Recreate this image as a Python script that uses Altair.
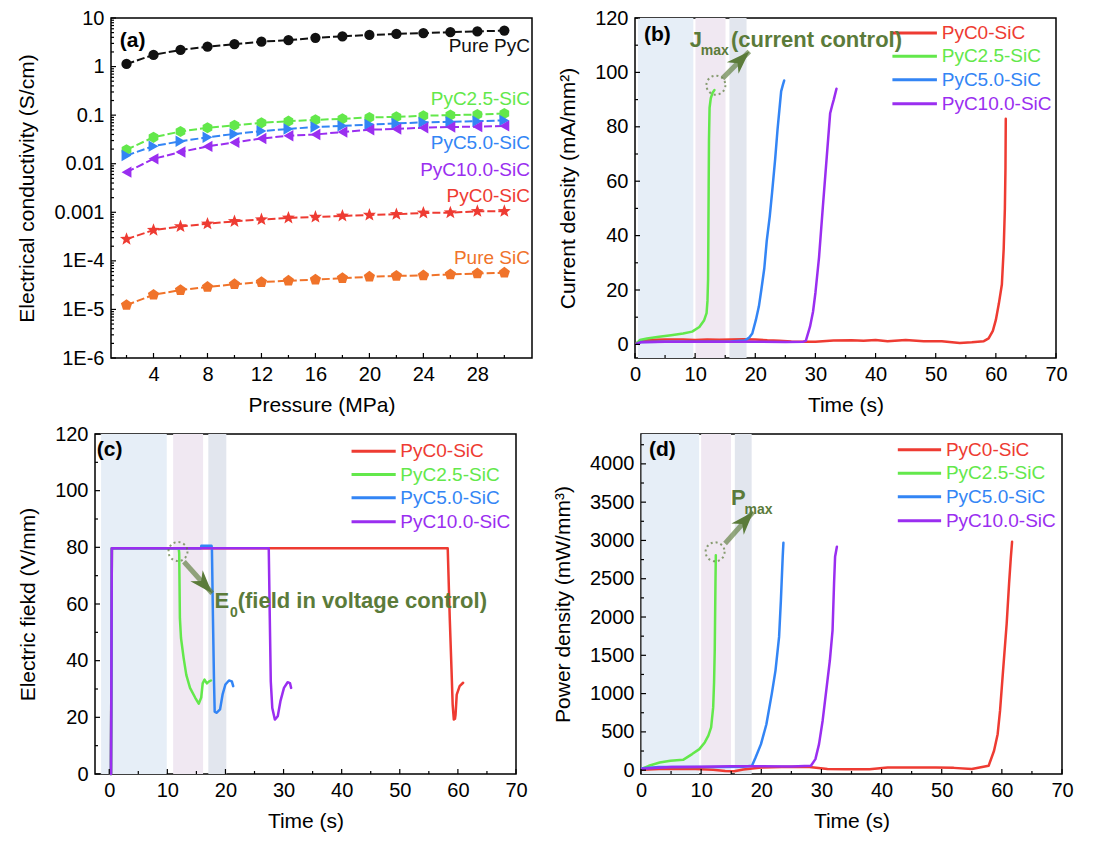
import math
import altair as alt
import pandas as pd

W, H = 421, 340
FONT = "Liberation Sans"
OLIVE = "#5B7B3A"

# ---------------- panel (a): conductivity vs pressure ----------------
pressure = [2, 4, 6, 8, 10, 12, 14, 16, 18, 20, 22, 24, 26, 28, 30]
cond_pure_pyc = [1.13, 1.74, 2.2, 2.57, 2.9, 3.26, 3.5, 3.9, 4.2, 4.47, 4.7, 4.9, 5.1, 5.3, 5.5]
cond_pyc25 = [0.0194, 0.035, 0.046, 0.055, 0.062, 0.0695, 0.075, 0.080, 0.084, 0.0895, 0.092, 0.097, 0.100, 0.103, 0.108]
cond_pyc50 = [0.0148, 0.023, 0.029, 0.035, 0.041, 0.047, 0.052, 0.057, 0.060, 0.064, 0.0675, 0.071, 0.073, 0.075, 0.078]
cond_pyc100 = [0.0067, 0.0126, 0.0174, 0.0227, 0.0275, 0.033, 0.0376, 0.040, 0.045, 0.050, 0.052, 0.055, 0.057, 0.058, 0.060]
cond_pyc0 = [2.8e-4, 4.3e-4, 5.1e-4, 5.8e-4, 6.5e-4, 7.1e-4, 7.65e-4, 8.0e-4, 8.4e-4, 8.8e-4, 9.1e-4, 9.7e-4, 9.8e-4, 1.05e-3, 1.05e-3]
cond_pure_sic = [1.23e-5, 2.0e-5, 2.5e-5, 2.9e-5, 3.3e-5, 3.65e-5, 3.9e-5, 4.1e-5, 4.4e-5, 4.7e-5, 4.9e-5, 5.0e-5, 5.25e-5, 5.5e-5, 5.7e-5]
names_a = ["Pure PyC", "PyC2.5-SiC", "PyC5.0-SiC", "PyC10.0-SiC", "PyC0-SiC", "Pure SiC"]
label_y_a = [2.69, 0.215, 0.0262, 0.0074, 0.00219, 1.15e-4]
label_x_a = 31.9
cond_ticks = [1e-6, 1e-5, 1e-4, 1e-3, 1e-2, 1e-1, 1, 10]
cond_tick_labels = ["1E-6", "1E-5", "1E-4", "0.001", "0.01", "0.1", "1", "10"]
pressure_ticks = [4, 8, 12, 16, 20, 24, 28]
pressure_minor = [2, 6, 10, 14, 18, 22, 26, 30]

# ---------------- panels (b)-(d): time series ----------------
names_t = ["PyC0-SiC", "PyC2.5-SiC", "PyC5.0-SiC", "PyC10.0-SiC"]

# (b) current density
jb_t_red = [0.3, 2, 5, 8, 10, 12, 14, 16, 18, 20, 22, 24, 26, 28, 30, 33, 36, 38, 40, 42, 45, 48, 51, 54, 56,
            58.0, 58.8, 59.5, 60.0, 60.5, 61.0, 61.3, 61.5, 61.6, 61.65]
jb_v_red = [0.5, 1.6, 1.8, 1.8, 1.6, 1.8, 1.7, 1.8, 1.9, 1.8, 1.5, 1.3, 1.1, 1.0, 1.0, 1.4, 1.5, 1.3, 1.6, 1.2, 1.6, 1.2, 1.2, 0.5, 0.8,
            1.2, 2.2, 5, 9, 15, 22, 35, 50, 65, 83]
jb_t_green = [0.3, 0.8, 2, 4, 6, 8, 9.5, 10.7, 11.5, 11.9, 12.05, 12.15, 12.2, 12.25, 12.3, 12.4, 12.6, 12.9, 13.2]
jb_v_green = [0.5, 1.6, 2.2, 2.8, 3.4, 4.0, 4.7, 6.4, 8.9, 11.5, 16, 24, 40, 58, 75, 87, 90.5, 92.5, 93.5]
jb_t_blue = [0.3, 1, 4, 8, 12, 16, 18.2, 19, 19.5, 20.1, 20.6, 21, 21.5, 21.9, 22.4, 22.8, 23.3, 23.7, 24.0, 24.3, 24.6, 24.8]
jb_v_blue = [0.3, 0.9, 1.0, 1.0, 1.0, 1.1, 1.4, 2.5, 4, 9, 14, 20, 28, 38, 47, 56, 68, 79, 86, 93, 95.5, 97]
jb_t_purple = [0.3, 1, 5, 10, 15, 20, 25, 28.0, 28.4, 29.1, 29.6, 30.0, 30.6, 31.25, 31.85, 32.45, 32.8, 33.05, 33.5]
jb_v_purple = [0.3, 0.8, 1.0, 1.0, 1.0, 1.0, 0.9, 1.0, 1.3, 6.5, 12, 19, 32, 51, 68, 85, 88, 90, 94]

# (c) electric field
ec_t_red = [0.3, 0.45, 58.25, 58.6, 58.9, 59.1, 59.3, 59.5, 59.6, 59.8, 60.3, 60.9]
ec_v_red = [0, 79.7, 79.7, 55, 37, 24.5, 19.2, 19.5, 21, 28, 31, 32.2]
ec_t_green = [0.3, 0.45, 11.95, 12.04, 12.16, 12.35, 12.8, 13.26, 13.9, 14.8, 15.4, 15.83, 16.08, 16.4, 16.8, 17.2, 17.5]
ec_v_green = [0, 79.7, 79.7, 78, 55, 48, 41, 35, 30.4, 26.9, 24.8, 27, 32, 33.3, 32, 32.7, 33]
ec_t_blue = [0.3, 0.45, 15.8, 15.85, 17.6, 17.67, 17.85, 18.03, 18.15, 18.46, 19.07, 19.5, 19.99, 20.6, 21.1, 21.33]
ec_v_blue = [0, 79.7, 79.7, 80.6, 80.6, 79.7, 55, 32.7, 22, 21.6, 22.8, 28, 31.6, 33, 32.7, 31]
ec_t_purple = [0.3, 0.45, 27.45, 27.63, 27.8, 28.06, 28.5, 29.0, 29.46, 30.07, 30.7, 31.1, 31.3]
ec_v_purple = [0, 79.7, 79.7, 55, 32.7, 23.3, 19.2, 20.4, 25.7, 30.4, 32.4, 32.1, 30.4]

# (d) power density
pd_t_red = [0.2, 3, 6, 9, 12, 14, 15.5, 17, 20, 25, 28, 31, 34, 38, 41, 45, 49, 52, 55,
            57.8, 58.7, 59.3, 59.7, 60.2, 60.8, 61.2, 61.5, 61.7]
pd_v_red = [5, 15, 20, 15, 5, -10, -15, 10, 35, 44, 40, 15, 12, 13, 35, 35, 35, 30, 15,
            57, 253, 470, 777, 1300, 1912, 2437, 2786, 2983]
pd_t_green = [0.2, 1.3, 3.1, 4.9, 7.0, 8.5, 9.7, 10.6, 11.2, 11.66, 12.0, 12.15, 12.26, 12.38, 12.44]
pd_v_green = [20, 57, 100, 122, 135, 210, 275, 362, 450, 560, 820, 1150, 1563, 2437, 2808]
pd_t_blue = [0.2, 3, 8, 13, 17, 18.45, 19.05, 19.95, 20.85, 21.75, 22.36, 22.96, 23.26, 23.56, 23.68]
pd_v_blue = [25, 40, 40, 42, 45, 57, 166, 340, 600, 1000, 1300, 1740, 2218, 2786, 2970]
pd_t_purple = [0.2, 5, 10, 15, 20, 25, 28.25, 29.0, 29.6, 30.2, 30.8, 31.4, 31.85, 32.1, 32.27, 32.57]
pd_v_purple = [20, 40, 45, 50, 50, 48, 57, 144, 340, 646, 1040, 1432, 1825, 2437, 2786, 2917]

# shaded stage bands (start, end in seconds)
bands_b = ([0.5, 10.05, 15.7], [9.7, 15.05, 18.55])
bands_c = ([-1.4, 11.0, 17.05], [9.9, 16.15, 20.15])
bands_d = ([0.1, 10.0, 15.6], [9.67, 14.97, 18.4])

# ---------------- styles ----------------
colors_a = ["#111111", "#63E84B", "#3385F5", "#9A2EF0", "#EE3B32", "#F0732A"]
colors_t = ["#EE3B32", "#63E84B", "#3385F5", "#9A2EF0"]
band_colors = ["#E6EEF7", "#F0E8F2", "#E2E6EE"]


def poly_path(n, r_in=None):
    k = 2 * n if r_in else n
    pts = []
    for j in range(k):
        ang = math.radians(-90 + 360.0 * j / k)
        r = 1.0 if (r_in is None or j % 2 == 0) else r_in
        pts.append(f"{r * math.cos(ang):.3f},{r * math.sin(ang):.3f}")
    return "M" + "L".join(pts) + "Z"


shapes_a = ["circle", poly_path(6), "triangle-right", "triangle-left", poly_path(5, 0.42), poly_path(5)]
sizes_a = [105, 125, 130, 130, 190, 140]
ARROW = "M0,0L0.6,1.7L0,1.2L-0.6,1.7Z"


def tick_rules(X, Y, xmaj, xmin, ymaj, ymin):
    out = []
    for vals, L in ((xmaj, 5), (xmin, 3)):
        out.append(alt.Chart(pd.DataFrame({"tk": vals})).mark_rule(color="black", strokeWidth=1.2).encode(
            x=X("tk:Q"), y=alt.value(H), y2=alt.value(H - L)))
    for vals, L in ((ymaj, 5), (ymin, 3)):
        out.append(alt.Chart(pd.DataFrame({"tk": vals})).mark_rule(color="black", strokeWidth=1.2).encode(
            y=Y("tk:Q"), x=alt.value(0), x2=alt.value(L)))
    return out


def spacer(w):
    return alt.Chart(pd.DataFrame({"z": [0]})).mark_point(opacity=0).encode(
        x=alt.value(0), y=alt.value(0)
    ).properties(width=w, height=1, view=alt.ViewBackground(stroke="transparent"))


# ---------------- build panel (a) ----------------
xs_a = alt.Scale(domain=[0.85, 32.05], nice=False, zero=False)
ys_a = alt.Scale(type="log", domain=[1e-6, 10], nice=False)
label_expr = "".join(f"datum.value < {v * 3} ? '{l}' : " for v, l in zip(cond_ticks, cond_tick_labels)) + "''"
ax_xa = alt.Axis(values=pressure_ticks, title="Pressure (MPa)")
ax_ya = alt.Axis(values=cond_ticks, labelExpr=label_expr, title="Electrical conductivity (S/cm)")
XA = lambda f: alt.X(f, scale=xs_a, axis=ax_xa)
YA = lambda f: alt.Y(f, scale=ys_a, axis=ax_ya)

series_a = [cond_pure_pyc, cond_pyc25, cond_pyc50, cond_pyc100, cond_pyc0, cond_pure_sic]
rows = []
for name, col, shp, sz, vals in zip(names_a, colors_a, shapes_a, sizes_a, series_a):
    for p, v in zip(pressure, vals):
        rows.append(dict(series=name, col=col, shp=shp, sz=sz, p=p, v=v))
df_a = pd.DataFrame(rows)

lines_a = alt.Chart(df_a).mark_line(strokeDash=[8, 3], strokeWidth=2).encode(
    x=XA("p:Q"), y=YA("v:Q"), color=alt.Color("col:N", scale=None), detail="series:N")
points_a = alt.Chart(df_a).mark_point(filled=True, opacity=1).encode(
    x=XA("p:Q"), y=YA("v:Q"),
    color=alt.Color("col:N", scale=None), shape=alt.Shape("shp:N", scale=None),
    size=alt.Size("sz:Q", scale=None))
lab_a = alt.Chart(pd.DataFrame({"p": [label_x_a] * 6, "v": label_y_a, "txt": names_a, "col": colors_a})).mark_text(
    align="right", baseline="middle", font=FONT, fontSize=19).encode(
    x=XA("p:Q"), y=YA("v:Q"), text="txt:N", color=alt.Color("col:N", scale=None))
plab_a = alt.Chart(pd.DataFrame({"p": [1.5], "v": [3.4], "txt": ["(a)"]})).mark_text(
    align="left", baseline="middle", font=FONT, fontSize=21, fontWeight="bold", color="black").encode(
    x=XA("p:Q"), y=YA("v:Q"), text="txt:N")
minor_log = [k * 10 ** e for e in range(-6, 1) for k in range(2, 10)]
panel_a = alt.layer(
    lines_a, points_a, lab_a, plab_a,
    *tick_rules(XA, YA, pressure_ticks, pressure_minor, cond_ticks, minor_log)
).properties(width=W, height=H)


# ---------------- time panels ----------------
def time_panel(series_t, series_v, xdom, xmaj, xmin, ydom, ymaj, ymin, ytitle,
               bands, leg, plabel, ann, circle, arrow):
    xs = alt.Scale(domain=xdom, nice=False, zero=False)
    ys = alt.Scale(domain=ydom, nice=False, zero=False)
    ax_x = alt.Axis(values=xmaj, title="Time (s)", format="d")
    ax_y = alt.Axis(values=ymaj, title=ytitle, format="d")
    X = lambda f: alt.X(f, scale=xs, axis=ax_x)
    Y = lambda f: alt.Y(f, scale=ys, axis=ax_y)
    rows = []
    for name, col, ts, vs in zip(names_t, colors_t, series_t, series_v):
        for i, (t, v) in enumerate(zip(ts, vs)):
            rows.append(dict(series=name, col=col, t=t, v=v, i=i))
    df = pd.DataFrame(rows)
    band = alt.Chart(pd.DataFrame({"t": bands[0], "t1": bands[1], "col": band_colors})).mark_rect().encode(
        x=X("t:Q"), x2="t1:Q", y=alt.value(0), y2=alt.value(H), color=alt.Color("col:N", scale=None))
    lines = alt.Chart(df).mark_line(strokeWidth=2.5, strokeJoin="round", strokeCap="round").encode(
        x=X("t:Q"), y=Y("v:Q"),
        color=alt.Color("col:N", scale=None), detail="series:N", order=alt.Order("i:Q"))
    x0, x1, xt, ly = leg
    leg_df = pd.DataFrame({"t": [x0] * 4, "t1": [x1] * 4, "tt": [xt] * 4, "v": ly,
                           "name": names_t, "col": colors_t})
    leg_rule = alt.Chart(leg_df).mark_rule(strokeWidth=3).encode(
        x=X("t:Q"), x2="t1:Q", y=Y("v:Q"), color=alt.Color("col:N", scale=None))
    leg_text = alt.Chart(leg_df).mark_text(align="left", baseline="middle", font=FONT, fontSize=19).encode(
        x=X("tt:Q"), y=Y("v:Q"), text="name:N", color=alt.Color("col:N", scale=None))
    plab = alt.Chart(pd.DataFrame({"t": [plabel[1]], "v": [plabel[2]], "txt": [plabel[0]]})).mark_text(
        align="left", baseline="middle", font=FONT, fontSize=21, fontWeight="bold", color="black").encode(
        x=X("t:Q"), y=Y("v:Q"), text="txt:N")
    ann_df = pd.DataFrame(ann, columns=["txt", "t", "v", "fs"])
    ann_text = alt.Chart(ann_df).mark_text(align="left", baseline="middle", font=FONT, fontWeight="bold",
                                           color=OLIVE).encode(
        x=X("t:Q"), y=Y("v:Q"), text="txt:N", size=alt.Size("fs:Q", scale=None))
    circ = alt.Chart(pd.DataFrame({"t": [circle[0]], "v": [circle[1]]})).mark_point(
        shape="circle", filled=False, strokeDash=[2, 3], strokeWidth=2, size=361, color=OLIVE).encode(
        x=X("t:Q"), y=Y("v:Q"))
    (ta, va), (tb, vb), ang = arrow
    shaft = alt.Chart(pd.DataFrame({"t": [ta], "v": [va], "t2": [tb], "v2": [vb]})).mark_rule(
        strokeWidth=5, color=OLIVE, opacity=0.65).encode(x=X("t:Q"), y=Y("v:Q"), x2="t2:Q", y2="v2:Q")
    head = alt.Chart(pd.DataFrame({"t": [tb], "v": [vb]})).mark_point(
        shape=ARROW, filled=True, size=760, angle=ang, color=OLIVE, opacity=1).encode(x=X("t:Q"), y=Y("v:Q"))
    return alt.layer(
        band, lines, *tick_rules(X, Y, xmaj, xmin, ymaj, ymin),
        leg_rule, leg_text, plab, ann_text, circ, shaft, head
    ).properties(width=W, height=H)


x_maj = [0, 10, 20, 30, 40, 50, 60, 70]
x_min = [5, 15, 25, 35, 45, 55, 65]

panel_b = time_panel(
    [jb_t_red, jb_t_green, jb_t_blue, jb_t_purple], [jb_v_red, jb_v_green, jb_v_blue, jb_v_purple],
    [0, 70], x_maj, x_min, [-5, 120], [0, 20, 40, 60, 80, 100, 120], [10, 30, 50, 70, 90, 110],
    "Current density (mA/mm²)", bands_b,
    (42.8, 50.2, 51.0, [114.5, 105.9, 97.3, 88.5]), ("(b)", 1.5, 113.8),
    [("J", 9.1, 112.0, 22), ("max", 10.95, 107.7, 14), ("(current control)", 15.95, 112.0, 22)],
    (13.45, 95.3), ((14.55, 97.8), (19.0, 107.7), 45))

panel_c = time_panel(
    [ec_t_red, ec_t_green, ec_t_blue, ec_t_purple], [ec_v_red, ec_v_green, ec_v_blue, ec_v_purple],
    [-2.45, 70], x_maj, x_min, [0, 120], [0, 20, 40, 60, 80, 100, 120], [10, 30, 50, 70, 90, 110],
    "Electric fiekd (V/mm)", bands_c,
    (41.7, 49.3, 50.1, [113.9, 105.7, 97.5, 89.0]), ("(c)", -2.15, 114.2),
    [("E", 18.1, 61.0, 22), ("0", 20.8, 57.0, 14), ("(field in voltage control)", 22.1, 61.0, 22)],
    (11.83, 78.5), ((12.86, 74.9), (17.72, 63.8), 138))

panel_d = time_panel(
    [pd_t_red, pd_t_green, pd_t_blue, pd_t_purple], [pd_v_red, pd_v_green, pd_v_blue, pd_v_purple],
    [0, 70], x_maj, x_min, [-50, 4390], [0, 500, 1000, 1500, 2000, 2500, 3000, 3500, 4000],
    [250, 750, 1250, 1750, 2250, 2750, 3250, 3750, 4250], "Power density (mW/mm³)", bands_d,
    (42.7, 49.9, 50.7, [4183, 3878, 3572, 3258]), ("(d)", 1.33, 4183),
    [("P", 14.97, 3549, 22), ("max", 17.2, 3397, 14)],
    (12.32, 2851), ((13.98, 2960), (18.67, 3375), 42))

chart = alt.vconcat(
    alt.hconcat(spacer(5.5), panel_a, spacer(17.5), panel_b, spacing=0),
    alt.hconcat(spacer(5.5), panel_c, spacer(17.5), panel_d, spacing=0),
    spacing=7,
).properties(
    padding={"left": 5, "top": 7, "right": 5, "bottom": 5}
).configure(font=FONT).configure_view(
    stroke="black", strokeWidth=1.5
).configure_axis(
    grid=False, ticks=False, domain=False, labelFont=FONT, titleFont=FONT,
    labelFontSize=20, titleFontSize=21, titleFontWeight="normal",
    labelColor="black", titleColor="black", labelFlush=False, labelOverlap=False
).configure_axisX(labelPadding=6, titlePadding=10).configure_axisY(labelPadding=7, titlePadding=16)

chart.save("out.html", embed_options={"renderer": "svg", "actions": False})
